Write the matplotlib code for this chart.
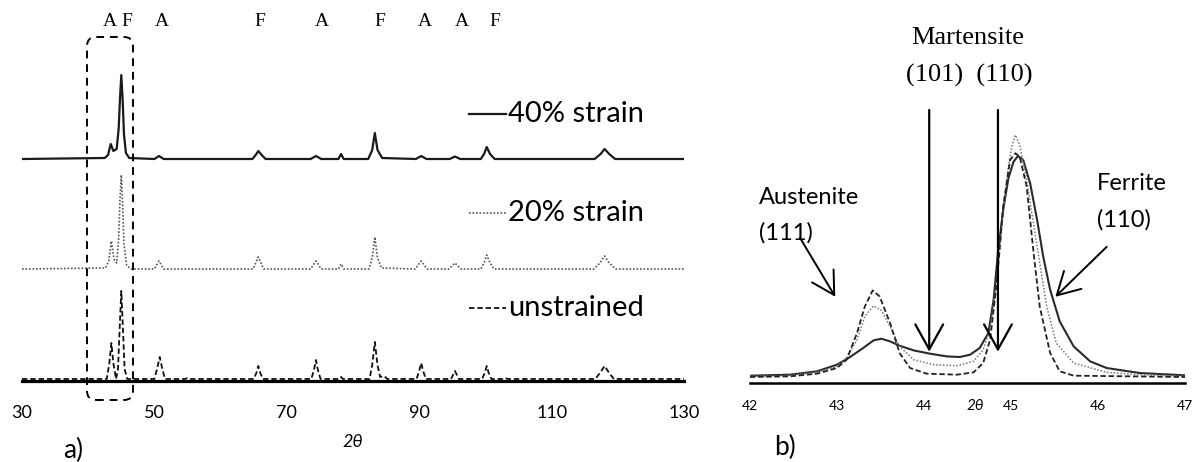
import matplotlib
matplotlib.use('Agg')
import matplotlib.pyplot as plt
from matplotlib.patches import FancyBboxPatch
from matplotlib.lines import Line2D
import matplotlib.transforms as mtransforms

# ---------------- data: panel a (full XRD patterns, intensity a.u.) ----------------
x_40 = [30, 42.5, 43.0, 43.4, 43.8, 44.3, 44.6, 44.8, 45.0, 45.2, 45.4, 45.7, 46.2,
        50.0, 50.7, 51.4, 64.8, 65.3, 65.7, 66.2, 66.8, 73.6, 74.4, 75.2, 77.8, 78.2, 78.6,
        82.3, 82.9, 83.3, 83.7, 84.4, 89.5, 90.3, 91.1, 94.6, 95.4, 96.2,
        99.3, 99.8, 100.2, 100.7, 101.4, 116.5, 117.4, 118.0, 118.7, 119.6, 130]
y_40 = [0, 1, 4, 15, 8, 10, 30, 60, 84, 60, 25, 6, 1,
        0, 3, 0, 0, 4, 8, 4, 0, 0, 3, 0, 0, 5, 0,
        0, 9, 26, 9, 1, 0, 3, 0, 0, 2.5, 0,
        0, 5, 12, 5, 0, 0, 5, 10, 5, 0, 0]

x_20 = [30, 42.6, 43.1, 43.5, 43.9, 44.3, 44.6, 44.8, 45.0, 45.2, 45.4, 45.8, 46.4,
        50.0, 50.7, 51.4, 64.9, 65.7, 66.5, 73.6, 74.4, 75.2, 77.8, 78.2, 78.6,
        82.4, 82.9, 83.3, 83.7, 84.3, 89.4, 90.3, 91.2, 94.5, 95.4, 96.3,
        99.3, 99.8, 100.2, 100.7, 101.3, 116.4, 117.3, 118.0, 118.7, 119.7, 130]
y_20 = [0, 1, 8, 28, 10, 6, 30, 70, 94, 65, 25, 4, 0,
        0, 8, 0, 0, 12, 0, 0, 8, 0, 0, 5, 0,
        0, 11, 32, 11, 1, 0, 8, 0, 0, 6, 0,
        0, 6, 14, 6, 0, 0, 6, 13, 6, 0, 0]

x_0 = [30, 42.8, 43.2, 43.5, 43.8, 44.2, 44.5, 44.75, 45.0, 45.25, 45.5, 45.9,
       50.0, 50.4, 50.8, 51.2, 51.6, 54.6, 55.0, 55.4, 65.0, 65.4, 65.7, 66.0, 66.4,
       73.7, 74.1, 74.4, 74.7, 75.1, 77.9, 78.2, 78.5, 82.5, 82.9, 83.3, 83.7, 84.1, 84.7, 85.2,
       89.6, 90.0, 90.3, 90.6, 91.0, 94.8, 95.4, 96.0, 99.5, 99.9, 100.2, 100.5, 100.9,
       102.6, 103.0, 103.4, 116.6, 117.3, 118.0, 118.7, 119.4, 130]
y_0 = [0, 0, 16, 36, 16, 0, 10, 50, 88, 50, 10, 0,
       0, 10, 22, 10, 0, 0, 1, 0, 0, 6, 13, 6, 0,
       0, 9, 19, 9, 0, 0, 2, 0, 0, 14, 37, 14, 2, 3, 0,
       0, 8, 16, 8, 0, 0, 8, 0, 0, 6, 13, 6, 0,
       0, 1, 0, 0, 6, 13, 6, 0, 0]

series_labels = ['40% strain', '20% strain', 'unstrained']
xticks_a = [30, 50, 70, 90, 110, 130]

phase_pos = [43.3, 45.9, 51.1, 66.0, 75.3, 84.1, 90.9, 96.5, 101.4]
phase_lab = ['A', 'F', 'A', 'F', 'A', 'F', 'A', 'A', 'F']

# ---------------- data: panel b (zoom 42-47) ----------------
xb_40 = [42.00, 42.46, 42.77, 43.00, 43.15, 43.30, 43.42, 43.51, 43.61, 43.72, 43.88, 44.07,
         44.26, 44.41, 44.53, 44.64, 44.74, 44.80, 44.85, 44.91, 44.97, 45.03, 45.08, 45.14,
         45.22, 45.30, 45.37, 45.45, 45.56, 45.72, 45.91, 46.10, 46.48, 47.00]
yb_40 = [22, 25, 35, 55, 78, 105, 128, 133, 125, 112, 98, 88,
         80, 78, 85, 105, 150, 250, 390, 520, 615, 665, 682, 670,
         600, 490, 380, 280, 185, 110, 65, 45, 30, 23]

xb_20 = [42.00, 42.46, 42.77, 43.00, 43.11, 43.23, 43.32, 43.42, 43.51, 43.61, 43.72, 43.88,
         44.11, 44.38, 44.57, 44.68, 44.76, 44.84, 44.91, 44.97, 45.01, 45.05, 45.10, 45.18,
         45.30, 45.41, 45.52, 45.72, 46.10, 46.48, 47.00]
yb_20 = [20, 23, 32, 50, 75, 130, 200, 232, 218, 170, 110, 70,
         55, 52, 65, 100, 160, 320, 510, 650, 710, 745, 715, 610,
         410, 230, 120, 60, 32, 25, 20]

xb_0 = [42.00, 42.46, 42.77, 43.00, 43.11, 43.23, 43.32, 43.41, 43.49, 43.61, 43.72, 43.84,
        44.03, 44.38, 44.57, 44.68, 44.76, 44.84, 44.91, 44.99, 45.05, 45.10, 45.18, 45.26,
        45.33, 45.45, 45.56, 45.72, 47.00]
yb_0 = [18, 20, 28, 45, 70, 150, 230, 278, 260, 180, 90, 45,
        28, 25, 32, 60, 130, 310, 530, 670, 690, 680, 590, 390,
        230, 90, 35, 22, 18]

xticks_b = [42, 43, 44, 45, 46, 47]
martensite_pos = [44.06, 44.85]

# ---------------- figure ----------------
W, H = 1197, 462
fig = plt.figure(figsize=(W / 100, H / 100), dpi=100)
SANS = ['Lato', 'DejaVu Sans']
SERIF = ['Liberation Serif', 'DejaVu Serif']


def fx(px):
    return px / W


def fy(py):
    return 1 - py / H


# ---- panel a ----
ax_a = fig.add_axes([fx(22), fy(381), (684 - 22) / W, 381 / H])
ax_a.set_xlim(30, 130)
ax_a.set_ylim(0, 381)
ax_a.patch.set_alpha(0)
for s in ['top', 'left', 'right']:
    ax_a.spines[s].set_visible(False)
ax_a.spines['bottom'].set_linewidth(2.3)
ax_a.spines['bottom'].set_zorder(1)
ax_a.set_yticks([])
ax_a.set_xticks(xticks_a)
ax_a.set_xticklabels([str(t) for t in xticks_a], family=SANS, fontsize=13)
ax_a.tick_params(axis='x', length=0, pad=17)

OFF_40, OFF_20, OFF_0 = 222, 112, 2
ax_a.plot(x_40, [OFF_40 + v for v in y_40], color='#1a1a1a', lw=1.6,
          solid_joinstyle='round', zorder=3)
ax_a.plot(x_20, [OFF_20 + v for v in y_20], color='#555555', lw=1.2,
          ls=(0, (1, 1.1)), zorder=3)
ax_a.plot(x_0, [OFF_0 + v for v in y_0], color='#111111', lw=1.3,
          ls=(0, (3, 1.6)), zorder=3)

blend_a = mtransforms.blended_transform_factory(ax_a.transData, fig.transFigure)
for xp, lab in zip(phase_pos, phase_lab):
    ax_a.text(xp, fy(22), lab, transform=blend_a, ha='center', va='center',
              family=SERIF, fontsize=14)

# dashed rounded box around 42-47 region
box = FancyBboxPatch((0.87, (H - 400) / 100), 0.46, (400 - 37) / 100,
                     boxstyle='round,pad=0,rounding_size=0.09',
                     transform=fig.dpi_scale_trans, fill=False, ec='black',
                     lw=1.4, ls=(0, (4, 3)), zorder=5)
fig.add_artist(box)

# legend samples
leg_y = [114, 213, 308]
leg_styles = [dict(color='#1a1a1a', lw=1.6, ls='-'),
              dict(color='#555555', lw=1.2, ls=(0, (1, 1.1))),
              dict(color='#111111', lw=1.3, ls=(0, (3, 1.6)))]
for yy, lab, st in zip(leg_y, series_labels, leg_styles):
    fig.add_artist(Line2D([fx(469), fx(506)], [fy(yy), fy(yy)],
                          transform=fig.transFigure, **st))
    fig.text(fx(508), fy(yy), lab, ha='left', va='center', family=SANS, fontsize=21)

fig.text(fx(353), fy(442), '2θ', ha='center', va='center', family=SANS,
         style='italic', fontsize=13)
fig.text(fx(73), fy(450), 'a)', ha='center', va='center', family=SANS, fontsize=19)

# ---- panel b ----
ax_b = fig.add_axes([fx(750), fy(383), 435 / W, 283 / H])
ax_b.set_xlim(42, 47)
ax_b.set_ylim(0, 850)
ax_b.patch.set_alpha(0)
for s in ['top', 'left', 'right']:
    ax_b.spines[s].set_visible(False)
ax_b.spines['bottom'].set_linewidth(1.8)
ax_b.set_yticks([])
ax_b.set_xticks(xticks_b)
ax_b.set_xticklabels([str(t) for t in xticks_b], family=SANS, fontsize=10)
ax_b.tick_params(axis='x', length=0, pad=12)

ax_b.plot(xb_40, yb_40, color='#2a2a2a', lw=1.5, solid_joinstyle='round', zorder=3)
ax_b.plot(xb_20, yb_20, color='#777777', lw=1.1, ls=(0, (1, 1.2)), zorder=3)
ax_b.plot(xb_0, yb_0, color='#222222', lw=1.3, ls=(0, (3, 1.5)), zorder=3)

arrow_big = dict(arrowstyle='->,head_length=0.9,head_width=0.5', lw=1.6,
                 color='black', shrinkA=0, shrinkB=0, mutation_scale=20)
for xm in martensite_pos:
    ax_b.annotate('', xy=(xm, 94), xytext=(xm, 820), arrowprops=arrow_big,
                  annotation_clip=False)
arrow_sm = dict(arrowstyle='->,head_length=0.8,head_width=0.45', lw=1.4,
                color='black', shrinkA=0, shrinkB=0, mutation_scale=20)
ax_b.annotate('', xy=(42.98, 259), xytext=(42.575, 436), arrowprops=arrow_sm,
              annotation_clip=False)
ax_b.annotate('', xy=(45.51, 259), xytext=(46.10, 409), arrowprops=arrow_sm,
              annotation_clip=False)

fig.text(fx(968), fy(38), 'Martensite', ha='center', va='center', family=SERIF, fontsize=19)
fig.text(fx(969), fy(75), '(101)  (110)', ha='center', va='center', family=SERIF, fontsize=19)
fig.text(fx(759), fy(198), 'Austenite', ha='left', va='center', family=SANS, fontsize=17)
fig.text(fx(759), fy(233), '(111)', ha='left', va='center', family=SANS, fontsize=17)
fig.text(fx(1097), fy(183), 'Ferrite', ha='left', va='center', family=SANS, fontsize=17)
fig.text(fx(1097), fy(220), '(110)', ha='left', va='center', family=SANS, fontsize=17)
fig.text(fx(975), fy(406), '2θ', ha='center', va='center', family=SANS,
         style='italic', fontsize=11)
fig.text(fx(785), fy(447), 'b)', ha='center', va='center', family=SANS, fontsize=19)

fig.savefig('out.png', dpi=100)
